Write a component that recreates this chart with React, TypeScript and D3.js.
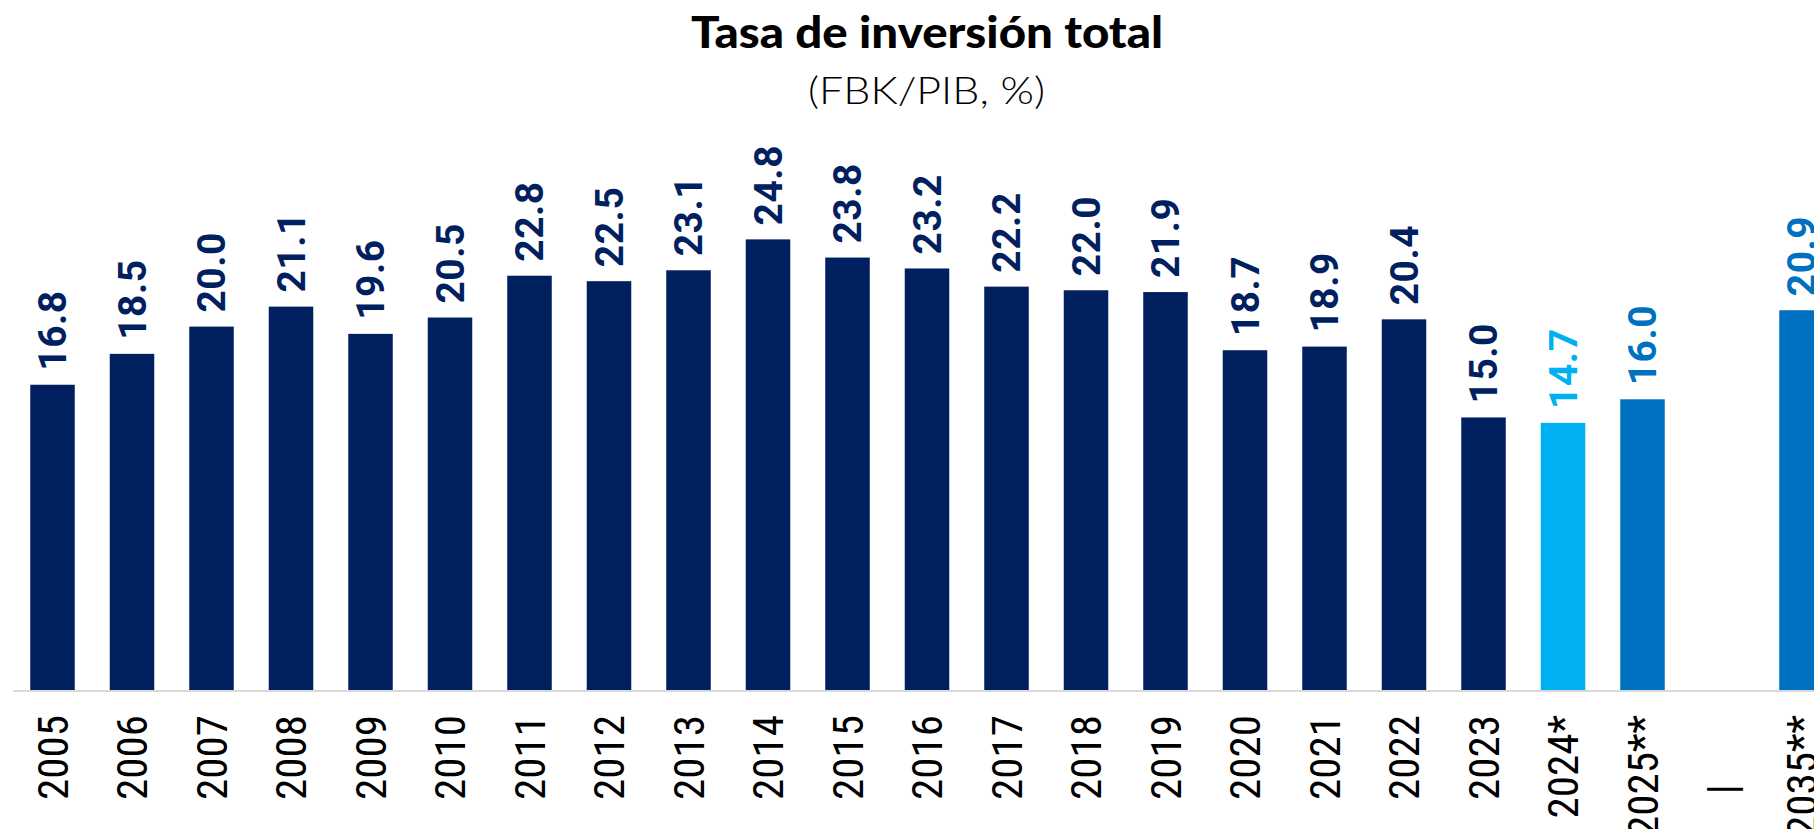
import React from "react";
import * as d3 from "d3";

const categories = [
  "2005", "2006", "2007", "2008", "2009", "2010", "2011", "2012", "2013", "2014",
  "2015", "2016", "2017", "2018", "2019", "2020", "2021", "2022", "2023",
  "2024*", "2025**", "|       ", "2035**",
];
const values: (number | null)[] = [
  16.8, 18.5, 20.0, 21.1, 19.6, 20.5, 22.8, 22.5, 23.1, 24.8,
  23.8, 23.2, 22.2, 22.0, 21.9, 18.7, 18.9, 20.4, 15.0,
  14.7, 16.0, null, 20.9,
];
const kinds = [
  "obs", "obs", "obs", "obs", "obs", "obs", "obs", "obs", "obs", "obs",
  "obs", "obs", "obs", "obs", "obs", "obs", "obs", "obs", "obs",
  "est", "proj", "gap", "proj",
];
const title = "Tasa de inversión total";
const subtitle = "(FBK/PIB, %)";

const colorOf: Record<string, string> = {
  obs: "#002060",
  est: "#00B0F0",
  proj: "#0070C0",
  gap: "#002060",
};

const W = 1814;
const H = 829;

export default function App() {
  const step = 79.5;
  const x0 = 12.75;
  const x = d3
    .scaleBand<string>()
    .domain(categories)
    .range([x0, x0 + step * categories.length])
    .paddingInner(0.44)
    .paddingOuter(0.22);
  const base = 690;
  const y = d3.scaleLinear().domain([0, 30]).range([base, base - 30 * 18.17]);
  const bw = x.bandwidth();

  return (
    <svg
      width={W}
      height={H}
      style={{ position: "absolute", left: 0, top: 0, display: "block", background: "#fff" }}
    >
      <text
        x={927}
        y={48}
        textAnchor="middle"
        fontFamily="Lato, 'Open Sans', sans-serif"
        fontWeight={900}
        fontSize={44}
        textLength={472}
        lengthAdjust="spacingAndGlyphs"
        fill="#000"
      >
        {title}
      </text>
      <text
        x={926.5}
        y={104}
        textAnchor="middle"
        fontFamily="Lato, 'Open Sans', sans-serif"
        fontWeight={300}
        fontSize={38}
        textLength={237}
        lengthAdjust="spacingAndGlyphs"
        fill="#000"
      >
        {subtitle}
      </text>

      {categories.map((c, i) => {
        const v = values[i];
        if (v == null) return null;
        const bx = x(c)!;
        const top = y(v);
        return (
          <rect
            key={"b" + c}
            x={bx}
            y={top}
            width={bw}
            height={base - top}
            fill={colorOf[kinds[i]]}
          />
        );
      })}

      <line x1={13} x2={W} y1={base + 1} y2={base + 1} stroke="#d9d9d9" strokeWidth={2} />

      {categories.map((c, i) => {
        const v = values[i];
        if (v == null) return null;
        const cx = x(c)! + bw / 2;
        const top = y(v);
        return (
          <text
            key={"l" + c}
            transform={`translate(${cx + 13.8},${top - 14}) rotate(-90)`}
            textAnchor="start"
            fontFamily="Roboto, sans-serif"
            fontWeight={700}
            fontSize={39}
            letterSpacing={0.5}
            fill={colorOf[kinds[i]]}
          >
            {d3.format(".1f")(v)}
          </text>
        );
      })}

      {categories.map((c, i) => {
        const cx = x(c)! + bw / 2;
        return (
          <text
            key={"x" + c}
            transform={`translate(${cx + 15.4},715) rotate(-90)`}
            textAnchor="end"
            fontFamily="'Liberation Sans Narrow', 'Roboto Condensed', 'Liberation Sans', sans-serif"
            fontWeight={400}
            fontSize={43}
            fill="#000"
            style={{ whiteSpace: "pre" }}
            xmlSpace="preserve"
          >
            {c}
          </text>
        );
      })}
    </svg>
  );
}
